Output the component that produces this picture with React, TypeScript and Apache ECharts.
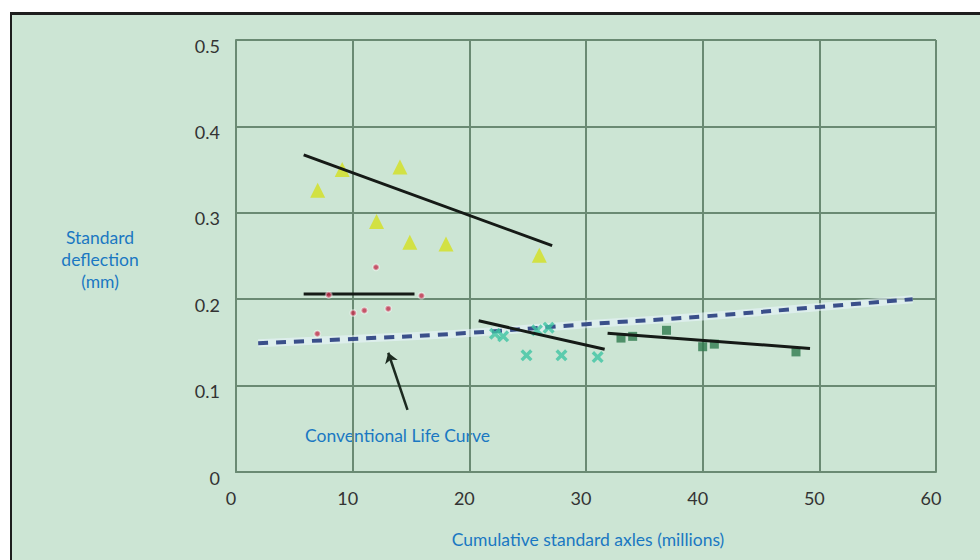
import React, { useEffect, useRef } from "react";
import * as echarts from "echarts";

// Data (x: millions of standard axles, y: deflection mm)
const triangleX = [7, 9.1, 14.05, 12.05, 14.9, 18, 26];
const triangleY = [0.326, 0.35, 0.353, 0.29, 0.266, 0.264, 0.251];

const redX = [12, 7.95, 15.9, 10.05, 11, 13.05, 6.97];
const redY = [0.237, 0.205, 0.204, 0.184, 0.187, 0.189, 0.16];

const crossX = [22.2, 22.9, 24.9, 25.8, 26.8, 27.9, 31];
const crossY = [0.16, 0.157, 0.135, 0.164, 0.167, 0.135, 0.133];

const squareX = [33, 34, 36.9, 40, 41, 48];
const squareY = [0.155, 0.157, 0.164, 0.145, 0.148, 0.139];

const trend1X = [5.8, 27.1];
const trend1Y = [0.367, 0.262];
const trend2X = [5.8, 15.3];
const trend2Y = [0.206, 0.206];
const trend3X = [20.8, 31.6];
const trend3Y = [0.175, 0.142];
const trend4X = [31.85, 49.2];
const trend4Y = [0.1605, 0.143];

const lifeCurveX = [1.9, 10, 20, 30, 40, 50, 58];
const lifeCurveY = [0.149, 0.154, 0.161, 0.171, 0.18, 0.191, 0.2];

const arrowFrom = [14.7, 0.072];
const arrowTo = [13.05, 0.138];

const xTicks = [0, 10, 20, 30, 40, 50, 60];
const yTicks = [0, 0.1, 0.2, 0.3, 0.4, 0.5];

const xTitle = "Cumulative standard axles (millions)";
const yTitle = "Standard\ndeflection\n(mm)";
const curveLabel = "Conventional Life Curve";

const zip = (xs: number[], ys: number[]) => xs.map((x, i) => [x, ys[i]]);

const FONT = "Lato, 'DejaVu Sans', sans-serif";
const BLUE = "#1a78c2";
const GRIDC = "#6a8a73";

export default function App() {
  const ref = useRef<HTMLDivElement>(null);
  useEffect(() => {
    if (!ref.current) return;
    const chart = echarts.init(ref.current, undefined, { renderer: "svg" });
    const trendLine = (xs: number[], ys: number[]) => ({
      type: "line",
      data: zip(xs, ys),
      symbol: "none",
      lineStyle: { color: "#151a16", width: 3 },
      z: 4,
    });
    chart.setOption({
      animation: false,
      backgroundColor: "#ffffff",
      textStyle: { fontFamily: FONT },
      graphic: [
        { type: "rect", shape: { x: 10, y: 12, width: 970, height: 548 }, style: { fill: "#cce5d4" }, z: -10 },
        { type: "rect", shape: { x: 10, y: 12, width: 970, height: 3 }, style: { fill: "#1e1e1e" }, z: -9 },
        { type: "rect", shape: { x: 10, y: 12, width: 2, height: 548 }, style: { fill: "#1e1e1e" }, z: -9 },
        {
          type: "text",
          x: 100,
          y: 259,
          style: {
            text: yTitle,
            fill: BLUE,
            font: `17.5px ${FONT}`,
            align: "center",
            verticalAlign: "middle",
            lineHeight: 22,
          },
        },
        {
          type: "text",
          x: 588,
          y: 539,
          style: { text: xTitle, fill: BLUE, font: `17.5px ${FONT}`, align: "center", verticalAlign: "middle" },
        },
        {
          type: "text",
          x: 305,
          y: 435,
          style: { text: curveLabel, fill: BLUE, font: `17.5px ${FONT}`, align: "left", verticalAlign: "middle" },
        },
      ],
      grid: { left: 236, top: 40, width: 700, height: 432, show: false },
      xAxis: {
        type: "value",
        min: xTicks[0],
        max: xTicks[xTicks.length - 1],
        interval: 10,
        axisLine: { show: true, onZero: false, lineStyle: { color: GRIDC, width: 2 } },
        axisTick: { show: false },
        splitLine: { show: true, lineStyle: { color: GRIDC, width: 2 } },
        axisLabel: { color: "#333", fontSize: 18, margin: 17, padding: [0, 10, 0, 0], fontFamily: FONT },
      },
      yAxis: {
        type: "value",
        min: yTicks[0],
        max: yTicks[yTicks.length - 1],
        interval: 0.1,
        axisLine: { show: true, lineStyle: { color: GRIDC, width: 2 } },
        axisTick: { show: false },
        splitLine: { show: true, lineStyle: { color: GRIDC, width: 2 } },
        axisLabel: {
          color: "#333",
          fontSize: 18,
          margin: 16,
          verticalAlign: "top",
          lineHeight: 11,
          fontFamily: FONT,
          formatter: (v: number) => (v === 0 ? "0" : v.toFixed(1)),
        },
      },
      series: [
        // right border of the plot
        {
          type: "line",
          data: [[60, 0], [60, 0.5]],
          symbol: "none",
          lineStyle: { color: GRIDC, width: 2 },
          z: 1,
        },
        {
          type: "line",
          data: zip(lifeCurveX, lifeCurveY),
          smooth: true,
          symbol: "none",
          lineStyle: { color: "rgba(235,245,255,0.55)", width: 8 },
          z: 2,
        },
        {
          type: "line",
          data: zip(lifeCurveX, lifeCurveY),
          smooth: true,
          symbol: "none",
          lineStyle: { color: "#3a4f8a", width: 4, type: [10, 8] },
          z: 3,
        },
        {
          type: "scatter",
          data: zip(triangleX, triangleY),
          symbol: "triangle",
          symbolSize: 15,
          itemStyle: { color: "#d3e01f" },
          z: 3,
        },
        {
          type: "scatter",
          data: zip(redX, redY),
          symbol: "circle",
          symbolSize: 6,
          itemStyle: { color: "#c2304c", borderColor: "rgba(255,255,255,0.5)", borderWidth: 2 },
          z: 5,
        },
        {
          type: "scatter",
          data: zip(crossX, crossY),
          symbol: "path://M2 0L5 3L8 0L10 2L7 5L10 8L8 10L5 7L2 10L0 8L3 5L0 2Z",
          symbolSize: 12,
          itemStyle: { color: "#3fc4a3" },
          z: 3,
        },
        {
          type: "scatter",
          data: zip(squareX, squareY),
          symbol: "rect",
          symbolSize: 9,
          itemStyle: { color: "#2f7a4e" },
          z: 3,
        },
        trendLine(trend1X, trend1Y),
        trendLine(trend2X, trend2Y),
        trendLine(trend3X, trend3Y),
        trendLine(trend4X, trend4Y),
        {
          type: "lines",
          coordinateSystem: "cartesian2d",
          symbol: ["none", "arrow"],
          symbolSize: 10,
          lineStyle: { color: "#1c2a20", width: 2.5, opacity: 1 },
          data: [{ coords: [arrowFrom, arrowTo] }],
          z: 6,
        },
      ],
    });
    return () => chart.dispose();
  }, []);
  return (
    <div
      ref={ref}
      style={{ position: "fixed", left: 0, top: 0, width: 980, height: 560 }}
    />
  );
}
